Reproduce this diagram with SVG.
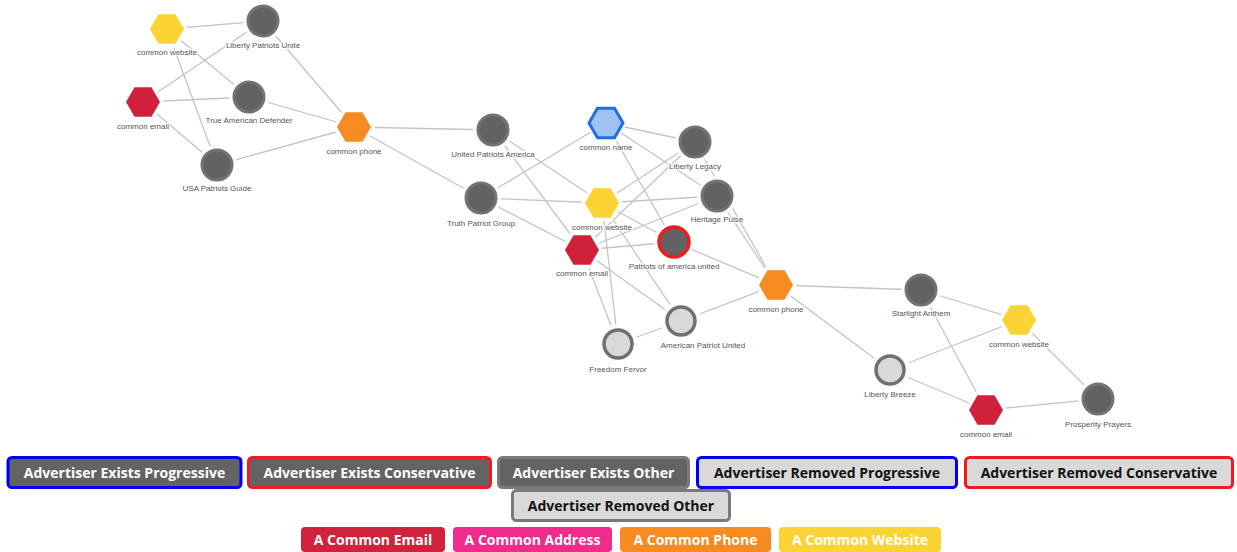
<svg xmlns="http://www.w3.org/2000/svg" width="1237" height="552" viewBox="0 0 1237 552">
<style>
.e{stroke:#c4c4c4;stroke-width:1.3;fill:none}
.halo{fill:#fff;opacity:.85}
.adv{fill:#626262;stroke:#737373;stroke-width:3}
.rem{fill:#d9d9d9;stroke:#707070;stroke-width:3.5}
.cons{fill:#626262;stroke:#ee1c1c;stroke-width:3.5}
.hw{fill:#fbd335}
.he{fill:#d0213a}
.hp{fill:#f68b22}
.hn{fill:#9ec2f4;stroke:#1f6fe0;stroke-width:3}
.lb{font-family:"Liberation Sans",Arial,sans-serif;font-size:8px;fill:#555;text-anchor:middle;stroke:#fff;stroke-width:2.5;paint-order:stroke;stroke-linejoin:round}
.lg{font-family:"Open Sans","Liberation Sans",sans-serif;font-weight:bold;font-size:14px;text-anchor:middle}
.w{fill:#fff}
.k{fill:#111}
</style>
<defs>
<polygon id="hex" points="-17,0 -8.5,-14.7 8.5,-14.7 17,0 8.5,14.7 -8.5,14.7"/>
<polygon id="hexh" points="-21,0 -10.5,-18.5 10.5,-18.5 21,0 10.5,18.5 -10.5,18.5"/>
</defs>
<rect width="1237" height="552" fill="#fff"/>
<g id="connectors">
<line class="e" x1="167" y1="29" x2="263" y2="21"/>
<line class="e" x1="167" y1="29" x2="249" y2="97"/>
<line class="e" x1="167" y1="29" x2="217" y2="165"/>
<line class="e" x1="143" y1="102" x2="263" y2="21"/>
<line class="e" x1="143" y1="102" x2="249" y2="97"/>
<line class="e" x1="143" y1="102" x2="217" y2="165"/>
<line class="e" x1="354" y1="127" x2="263" y2="21"/>
<line class="e" x1="354" y1="127" x2="249" y2="97"/>
<line class="e" x1="354" y1="127" x2="217" y2="165"/>
<line class="e" x1="354" y1="127" x2="493" y2="130"/>
<line class="e" x1="354" y1="127" x2="481" y2="198"/>
<line class="e" x1="493" y1="130" x2="602" y2="203"/>
<line class="e" x1="493" y1="130" x2="582" y2="250"/>
<line class="e" x1="481" y1="198" x2="606" y2="123"/>
<line class="e" x1="481" y1="198" x2="602" y2="203"/>
<line class="e" x1="481" y1="198" x2="582" y2="250"/>
<line class="e" x1="606" y1="123" x2="695" y2="142"/>
<line class="e" x1="606" y1="123" x2="717" y2="196"/>
<line class="e" x1="606" y1="123" x2="674" y2="242"/>
<line class="e" x1="695" y1="142" x2="602" y2="203"/>
<line class="e" x1="695" y1="142" x2="582" y2="250"/>
<line class="e" x1="695" y1="142" x2="776" y2="285"/>
<line class="e" x1="717" y1="196" x2="602" y2="203"/>
<line class="e" x1="717" y1="196" x2="582" y2="250"/>
<line class="e" x1="717" y1="196" x2="776" y2="285"/>
<line class="e" x1="602" y1="203" x2="674" y2="242"/>
<line class="e" x1="602" y1="203" x2="681" y2="321"/>
<line class="e" x1="602" y1="203" x2="618" y2="344"/>
<line class="e" x1="582" y1="250" x2="674" y2="242"/>
<line class="e" x1="582" y1="250" x2="618" y2="344"/>
<line class="e" x1="582" y1="250" x2="681" y2="321"/>
<line class="e" x1="674" y1="242" x2="776" y2="285"/>
<line class="e" x1="681" y1="321" x2="776" y2="285"/>
<line class="e" x1="681" y1="321" x2="618" y2="344"/>
<line class="e" x1="776" y1="285" x2="921" y2="290"/>
<line class="e" x1="776" y1="285" x2="890" y2="370"/>
<line class="e" x1="921" y1="290" x2="1019" y2="320"/>
<line class="e" x1="921" y1="290" x2="986" y2="410"/>
<line class="e" x1="890" y1="370" x2="1019" y2="320"/>
<line class="e" x1="890" y1="370" x2="986" y2="410"/>
<line class="e" x1="1019" y1="320" x2="1098" y2="399"/>
<line class="e" x1="986" y1="410" x2="1098" y2="399"/>
</g>
<g id="n-cw1" transform="translate(167,29)"><use href="#hexh" class="halo"/><use href="#hex" class="hw"/><text class="lb" y="26">common website</text></g>
<g id="n-lpu" transform="translate(263,21)"><circle r="20" class="halo"/><circle r="15" class="adv"/><text class="lb" y="27">Liberty Patriots Unite</text></g>
<g id="n-ce1" transform="translate(143,102)"><use href="#hexh" class="halo"/><use href="#hex" class="he"/><text class="lb" y="27">common email</text></g>
<g id="n-tad" transform="translate(249,97)"><circle r="20" class="halo"/><circle r="15" class="adv"/><text class="lb" y="26">True American Defender</text></g>
<g id="n-cp1" transform="translate(354,127)"><use href="#hexh" class="halo"/><use href="#hex" class="hp"/><text class="lb" y="27">common phone</text></g>
<g id="n-usa" transform="translate(217,165)"><circle r="20" class="halo"/><circle r="15" class="adv"/><text class="lb" y="26">USA Patriots Guide</text></g>
<g id="n-upa" transform="translate(493,130)"><circle r="20" class="halo"/><circle r="15" class="adv"/><text class="lb" y="27">United Patriots America</text></g>
<g id="n-cn" transform="translate(606,123)"><use href="#hexh" class="halo"/><use href="#hex" class="hn"/><text class="lb" y="27">common name</text></g>
<g id="n-ll" transform="translate(695,142)"><circle r="20" class="halo"/><circle r="15" class="adv"/><text class="lb" y="27">Liberty Legacy</text></g>
<g id="n-tpg" transform="translate(481,198)"><circle r="20" class="halo"/><circle r="15" class="adv"/><text class="lb" y="28">Truth Patriot Group</text></g>
<g id="n-cw2" transform="translate(602,203)"><use href="#hexh" class="halo"/><use href="#hex" class="hw"/><text class="lb" y="27">common website</text></g>
<g id="n-hp" transform="translate(717,196)"><circle r="20" class="halo"/><circle r="15" class="adv"/><text class="lb" y="26">Heritage Pulse</text></g>
<g id="n-ce2" transform="translate(582,250)"><use href="#hexh" class="halo"/><use href="#hex" class="he"/><text class="lb" y="26">common email</text></g>
<g id="n-pau" transform="translate(674,242)"><circle r="20" class="halo"/><circle r="15" class="cons"/><text class="lb" y="27">Patriots of america united</text></g>
<g id="n-cp2" transform="translate(776,285)"><use href="#hexh" class="halo"/><use href="#hex" class="hp"/><text class="lb" y="27">common phone</text></g>
<g id="n-apu" transform="translate(681,321)"><circle r="20" class="halo"/><circle r="14" class="rem"/><text class="lb" x="22" y="27">American Patriot United</text></g>
<g id="n-ff" transform="translate(618,344)"><circle r="20" class="halo"/><circle r="14" class="rem"/><text class="lb" y="28">Freedom Fervor</text></g>
<g id="n-sa" transform="translate(921,290)"><circle r="20" class="halo"/><circle r="15" class="adv"/><text class="lb" y="26">Starlight Anthem</text></g>
<g id="n-cw3" transform="translate(1019,320)"><use href="#hexh" class="halo"/><use href="#hex" class="hw"/><text class="lb" y="27">common website</text></g>
<g id="n-lb" transform="translate(890,370)"><circle r="20" class="halo"/><circle r="14" class="rem"/><text class="lb" y="27">Liberty Breeze</text></g>
<g id="n-ce3" transform="translate(986,410)"><use href="#hexh" class="halo"/><use href="#hex" class="he"/><text class="lb" y="27">common email</text></g>
<g id="n-pp" transform="translate(1098,399)"><circle r="20" class="halo"/><circle r="15" class="adv"/><text class="lb" y="28">Prosperity Prayers</text></g>
<g id="legend">
<rect x="8" y="457.5" width="233" height="30" rx="4" fill="#636363" stroke="#0000ee" stroke-width="3"/>
<text class="lg w" x="124.5" y="478">Advertiser Exists Progressive</text>
<rect x="248.5" y="457.5" width="242" height="30" rx="4" fill="#636363" stroke="#ee1c1c" stroke-width="3"/>
<text class="lg w" x="369.5" y="478">Advertiser Exists Conservative</text>
<rect x="498.5" y="457.5" width="190" height="30" rx="4" fill="#636363" stroke="#7a7a7a" stroke-width="3"/>
<text class="lg w" x="593.5" y="478">Advertiser Exists Other</text>
<rect x="697.5" y="457.5" width="259" height="30" rx="4" fill="#d9d9d9" stroke="#0000ee" stroke-width="3"/>
<text class="lg k" x="827" y="478">Advertiser Removed Progressive</text>
<rect x="965.5" y="457.5" width="267" height="30" rx="4" fill="#d9d9d9" stroke="#ee1c1c" stroke-width="3"/>
<text class="lg k" x="1099" y="478">Advertiser Removed Conservative</text>
<rect x="512.5" y="490.5" width="217" height="30" rx="4" fill="#d9d9d9" stroke="#7a7a7a" stroke-width="3"/>
<text class="lg k" x="621" y="511">Advertiser Removed Other</text>
<rect x="301" y="527" width="144" height="25" rx="4" fill="#d0223c"/>
<text class="lg w" x="373" y="545">A Common Email</text>
<rect x="453" y="527" width="159" height="25" rx="4" fill="#ef2b8b"/>
<text class="lg w" x="532.5" y="545">A Common Address</text>
<rect x="620" y="527" width="151" height="25" rx="4" fill="#f68b22"/>
<text class="lg w" x="695.5" y="545">A Common Phone</text>
<rect x="779" y="527" width="162" height="25" rx="4" fill="#fbd335"/>
<text class="lg w" x="860" y="545">A Common Website</text>
</g>
</svg>
